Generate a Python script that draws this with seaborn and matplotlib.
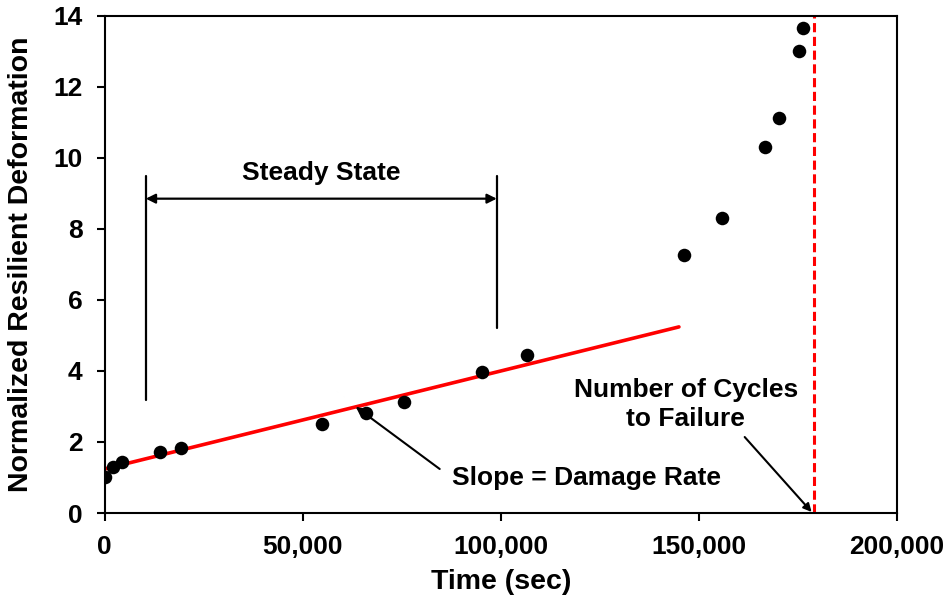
import matplotlib
matplotlib.use("Agg")
import matplotlib.pyplot as plt
import seaborn as sns
import pandas as pd

# Data
time_sec = [0, 2000, 4500, 14100, 19200, 55000, 65900, 75500, 95200, 106600,
            146200, 155800, 166700, 170200, 175300, 176300]
norm_def = [1.01, 1.30, 1.44, 1.72, 1.83, 2.51, 2.82, 3.13, 3.97, 4.45,
            7.27, 8.31, 10.31, 11.13, 13.01, 13.66]
fit_time = [0, 145000]
fit_def = [1.24, 5.24]
failure_time = 179000
steady_start, steady_end = 10400, 99000
x_ticks = [0, 50000, 100000, 150000, 200000]
y_ticks = [0, 2, 4, 6, 8, 10, 12, 14]

sns.set_theme(style="white")
plt.rcParams['font.family'] = ['Liberation Sans', 'DejaVu Sans']
plt.rcParams['font.weight'] = 'bold'
plt.rcParams['text.color'] = 'black'
plt.rcParams['axes.labelcolor'] = 'black'
plt.rcParams['xtick.color'] = 'black'
plt.rcParams['ytick.color'] = 'black'

fig = plt.figure(figsize=(9.51, 6.05), dpi=100)
ax = fig.add_axes([0.110, 0.152, 0.833, 0.822])

pts = pd.DataFrame({"t": time_sec, "v": norm_def})
fit = pd.DataFrame({"t": fit_time, "v": fit_def})

sns.lineplot(data=fit, x="t", y="v", color="#ff0000", linewidth=2.6, ax=ax, zorder=2)
sns.scatterplot(data=pts, x="t", y="v", color="black", s=95, edgecolor="black",
                linewidth=0, ax=ax, zorder=3)
ax.axvline(failure_time, color="#ff0000", linestyle=(0, (3, 1.5)), linewidth=2.2, zorder=1)

ann_fs = 19

# Steady state bracket
ax.plot([steady_start, steady_start], [3.18, 9.5], color="black", lw=1.6)
ax.plot([steady_end, steady_end], [5.2, 9.5], color="black", lw=1.6)
ax.annotate("", xy=(steady_start, 8.85), xytext=(steady_end, 8.85),
            arrowprops=dict(arrowstyle="<|-|>", color="black", lw=1.6,
                            mutation_scale=14, shrinkA=0, shrinkB=0))
ax.text((steady_start + steady_end) / 2, 9.38, "Steady State", ha="center",
        va="baseline", fontsize=ann_fs, fontweight="bold")

# Slope annotation
ax.text(87600, 0.79, "Slope = Damage Rate", ha="left", va="baseline",
        fontsize=ann_fs, fontweight="bold")
ax.annotate("", xy=(63400, 2.99), xytext=(84600, 1.24),
            arrowprops=dict(arrowstyle="-|>", color="black", lw=1.5,
                            mutation_scale=10, shrinkA=0, shrinkB=0))

# Failure annotation
ax.text(146700, 3.05, "Number of Cycles\nto Failure", ha="center", va="center",
        fontsize=ann_fs, fontweight="bold", linespacing=1.25)
ax.annotate("", xy=(178500, 0.03), xytext=(161600, 2.14),
            arrowprops=dict(arrowstyle="-|>", color="black", lw=1.5,
                            mutation_scale=12, shrinkA=0, shrinkB=0))

ax.set_xlim(0, 200000)
ax.set_ylim(0, 14)
ax.set_xticks(x_ticks)
ax.set_xticklabels([f"{v:,}" for v in x_ticks])
ax.set_yticks(y_ticks)
ax.set_yticklabels([str(v) for v in y_ticks])
ax.tick_params(axis="both", direction="out", length=6, width=1.5, labelsize=19,
               bottom=True, left=True)
ax.tick_params(axis="x", pad=10)
ax.tick_params(axis="y", pad=10)
for lab in ax.get_xticklabels() + ax.get_yticklabels():
    lab.set_fontweight("bold")
for sp in ax.spines.values():
    sp.set_visible(True)
    sp.set_color("black")
    sp.set_linewidth(1.5)

ax.set_xlabel("Time (sec)", fontsize=20.5, fontweight="bold", labelpad=7)
ax.set_ylabel("Normalized Resilient Deformation", fontsize=20.5, fontweight="bold", labelpad=14)

fig.savefig("out.png", dpi=100)
